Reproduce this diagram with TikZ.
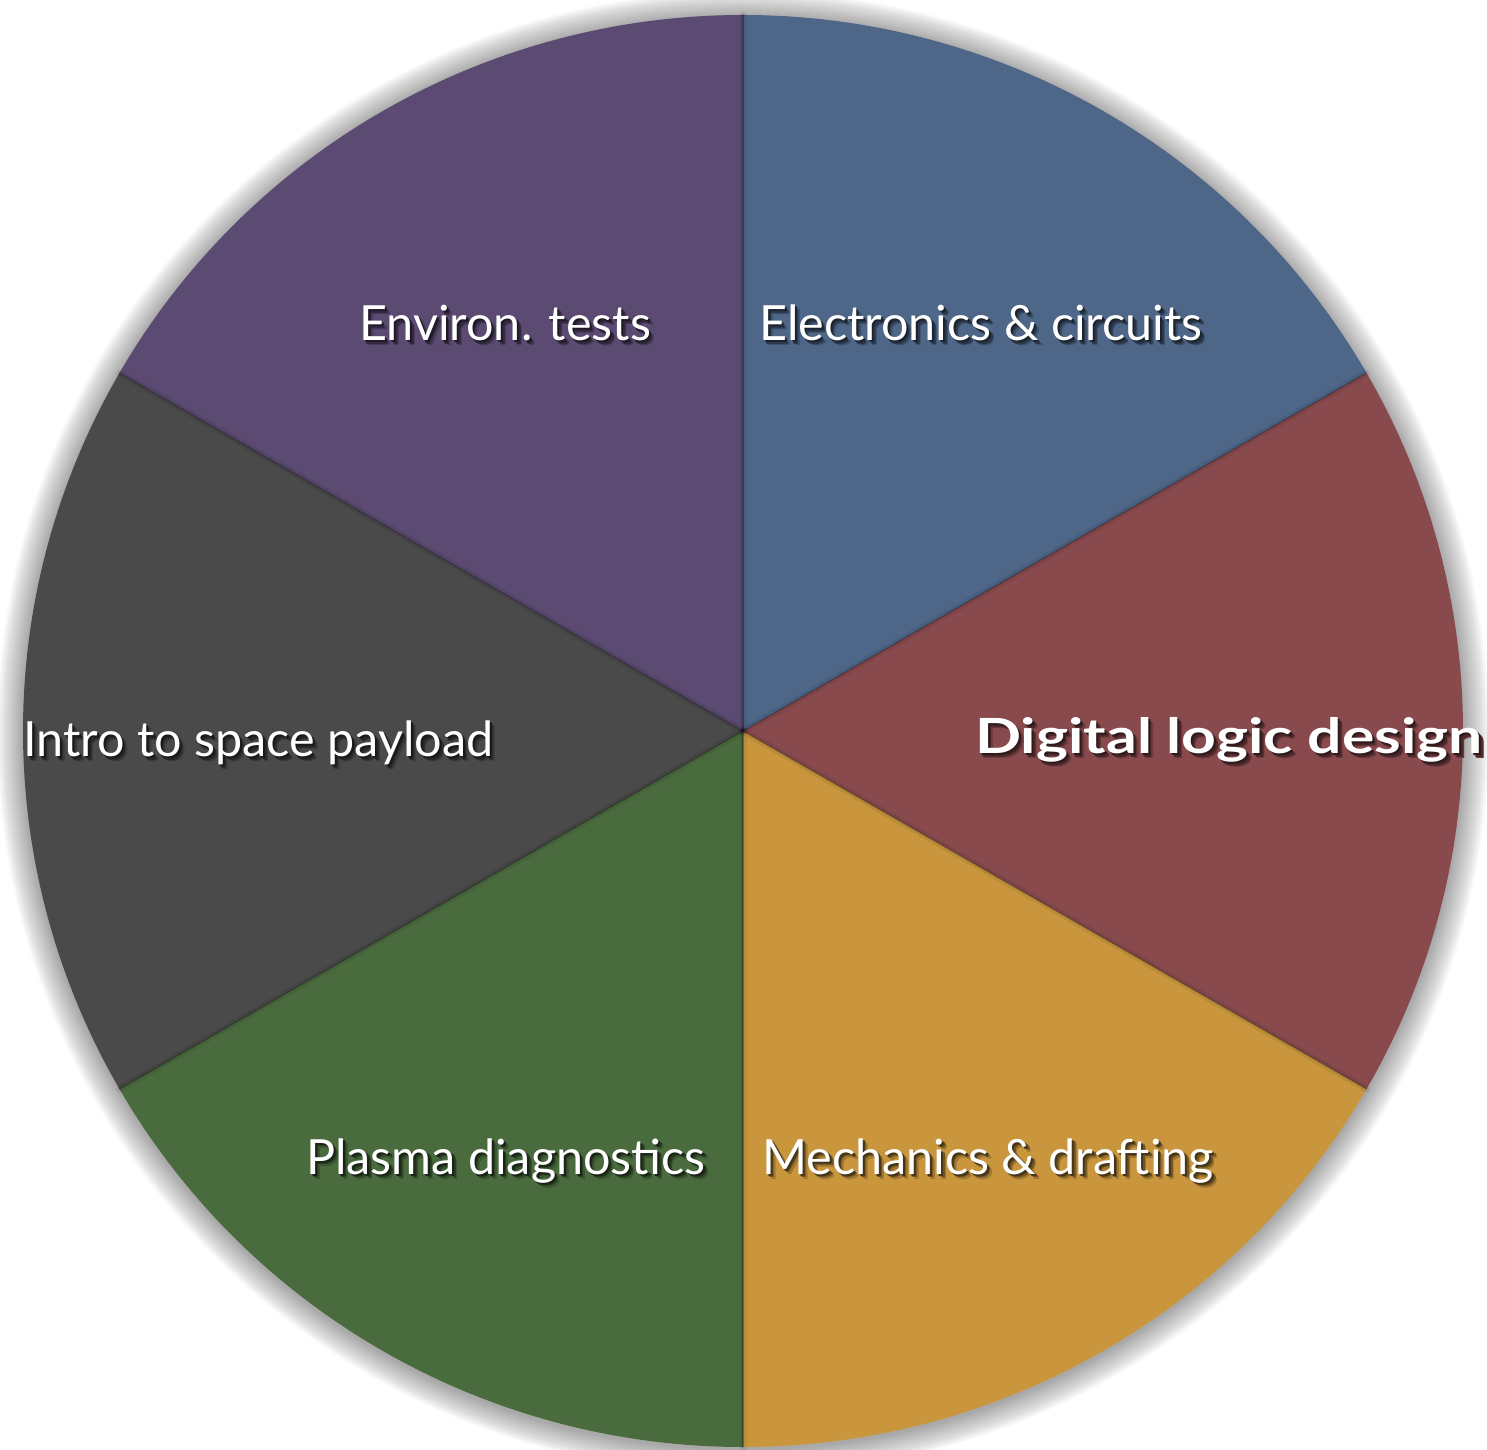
\documentclass[tikz,border=0pt]{standalone}
\usepackage{fontspec}
\setmainfont{Lato}
\usetikzlibrary{calc}
\definecolor{slblue}{HTML}{4E6688}
\definecolor{slred}{HTML}{894A4E}
\definecolor{slgold}{HTML}{C9963E}
\definecolor{slgreen}{HTML}{4A6B3E}
\definecolor{slgray}{HTML}{4A4A4A}
\definecolor{slpurple}{HTML}{5B4A72}
\newcommand\piex{720}
\newcommand\piey{716}
% one pie wedge between two angles
\newcommand\piewedge[3]{%
  \fill[#3] (C) -- ++(#1:\piex pt and \piey pt)
    arc[start angle=#1, end angle=#2, x radius=\piex pt, y radius=\piey pt] -- cycle;}
% white label with a soft drop shadow tinted from the wedge colour
\newcommand\shadowlabel[5]{%
  \node[lbl] (#1) at (#2) {#3%
    \makebox[0pt][l]{\hspace{5pt}\raisebox{-5pt}{\color{#4!80!black}#5}}%
    \makebox[0pt][l]{\hspace{3.5pt}\raisebox{-3.5pt}{\color{#4!55!black}#5}}%
    \makebox[0pt][l]{\hspace{2pt}\raisebox{-2pt}{\color{#4!35!black}#5}}%
    #5};}
\begin{document}
\begin{tikzpicture}[x=1pt,y=1pt,
  lbl/.style={anchor=base west, inner sep=0pt, text=white,
    font=\fontsize{48.5}{58}\selectfont},
  divider/.style={draw=black, line cap=round}]
\useasboundingbox (0,0) rectangle (1487,1449);
\coordinate (C) at (743,718);
% soft shadow around the disc
\foreach \k in {26,25,...,1}{
  \fill[black, opacity=0.014] ($(C)+(0,-2)$) ellipse[x radius=\piex pt+\k pt, y radius=\piey pt+\k pt];
}
% wedges
\piewedge{90}{30}{slblue}
\piewedge{30}{-30}{slred}
\piewedge{-30}{-90}{slgold}
\piewedge{-90}{-150}{slgreen}
\piewedge{-150}{-210}{slgray}
\piewedge{150}{90}{slpurple}
% dividing edges
\foreach \a in {90,30,-30,-90,-150,150}{
  \coordinate (e\a) at ($(C)+(\a:\piex pt and \piey pt)$);
  \draw[divider, opacity=0.07, line width=7pt] (C) -- (e\a);
  \draw[divider, opacity=0.28, line width=1.4pt] (C) -- (e\a);
}
% labels
\coordinate (pE) at (359,1108);
\coordinate (pC) at (759,1108);
\coordinate (pI) at (23,692);
\coordinate (pD) at (975,695);
\coordinate (pP) at (306,275);
\coordinate (pM) at (762,275);
\shadowlabel{tEnv}{pE}{}{slpurple}{Environ. tests}
\shadowlabel{tEle}{pC}{}{slblue}{Electronics \& circuits}
\shadowlabel{tIntro}{pI}{}{slgray}{Intro to space payload}
\shadowlabel{tDig}{pD}{\bfseries}{slred}{\scalebox{1.25}[1]{Digital logic design}}
\shadowlabel{tPla}{pP}{}{slgreen}{Plasma diagnostics}
\shadowlabel{tMec}{pM}{}{slgold}{Mechanics \& drafting}
\end{tikzpicture}
\end{document}
